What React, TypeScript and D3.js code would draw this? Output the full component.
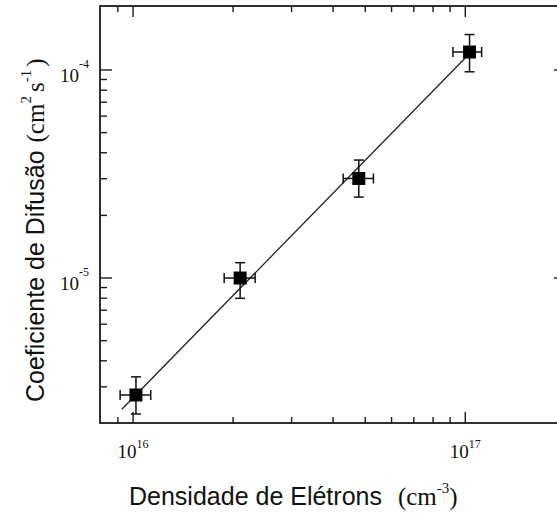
import React from 'react';
import * as d3 from 'd3';

// electron density (cm^-3) and diffusion coefficient (cm^2 s^-1)
const density = [1.02e16, 2.10e16, 4.78e16, 1.03e17];
const densityLow = [0.914e16, 1.88e16, 4.29e16, 9.18e16];
const densityHigh = [1.13e16, 2.33e16, 5.29e16, 1.12e17];
const diffusion = [2.74e-6, 1.0e-5, 3.01e-5, 1.22e-4];
const diffusionLow = [2.22e-6, 7.99e-6, 2.45e-5, 0.98e-4];
const diffusionHigh = [3.35e-6, 1.185e-5, 3.69e-5, 1.48e-4];

// fitted line end points
const fitDensity = [9.25e15, 1.02e17];
const fitDiffusion = [2.34e-6, 1.18e-4];

const xTickLabels = [{ v: 1e16, exp: '16' }, { v: 1e17, exp: '17' }];
const yTickLabels = [{ v: 1e-4, exp: '-4' }, { v: 1e-5, exp: '-5' }];

const W = 557, H = 517;
const left = 100, right = 566, top = 6, bottom = 423;
const sans = "'Liberation Sans', Arial, sans-serif";
const serif = "'Liberation Serif', 'Times New Roman', serif";

export default function App() {
  // 1e16 -> 133px, 1e17 -> 465px
  const x = d3.scaleLog().domain([7.95e15, 2.01e17]).range([left, right]);
  const y = d3.scaleLog().domain([2.01e-6, 2.03e-4]).range([bottom, top]);

  const isMajor = (v: number) => Math.abs(Math.log10(v) - Math.round(Math.log10(v))) < 1e-6;
  const xTicks = x.ticks().filter((v) => x(v) > left + 3 && x(v) < right - 3);
  const yTicks = y.ticks().filter((v) => y(v) > top + 3 && y(v) < bottom - 3);

  const line = d3.line<number>()
    .x((d) => x(fitDensity[d]))
    .y((d) => y(fitDiffusion[d]));

  const ax = '#1a1a1a';
  const cap = 5;
  const sq = 13;

  return (
    <div style={{ position: 'absolute', left: 0, top: 0 }}>
      <svg width={W} height={H} style={{ display: 'block', background: '#fff' }}>
        {/* ticks, all pointing inward */}
        <g stroke={ax} strokeWidth={1.4}>
          {xTicks.map((v, i) => {
            const len = isMajor(v) ? 11 : 6;
            return (
              <g key={'xt' + i}>
                <line x1={x(v)} x2={x(v)} y1={bottom} y2={bottom - len} />
                <line x1={x(v)} x2={x(v)} y1={top} y2={top + len} />
              </g>
            );
          })}
          {yTicks.map((v, i) => {
            const len = isMajor(v) ? 12 : 7;
            return (
              <g key={'yt' + i}>
                <line x1={left} x2={left + len} y1={y(v)} y2={y(v)} />
                <line x1={right} x2={right - len} y1={y(v)} y2={y(v)} />
              </g>
            );
          })}
        </g>
        <rect x={left} y={top} width={right - left} height={bottom - top}
          fill="none" stroke={ax} strokeWidth={1.8} />

        {/* tick labels */}
        {xTickLabels.map((t) => (
          <text key={t.exp} x={x(t.v)} y={458} textAnchor="middle"
            fontFamily={serif} fontSize={19} fill="#111">
            10<tspan fontSize={12} dy={-10}>{t.exp}</tspan>
          </text>
        ))}
        {yTickLabels.map((t) => (
          <text key={t.exp} x={89} y={y(t.v) + 12} textAnchor="end"
            fontFamily={serif} fontSize={19} fill="#111">
            10<tspan fontSize={12} dy={-14}>{t.exp}</tspan>
          </text>
        ))}

        {/* fit line */}
        <path d={line([0, 1]) ?? ''} fill="none" stroke="#222" strokeWidth={1.3} />

        {/* error bars and markers */}
        <g stroke="#111" strokeWidth={1.5}>
          {density.map((d, i) => {
            const cx = x(d), cy = y(diffusion[i]);
            const x0 = x(densityLow[i]), x1 = x(densityHigh[i]);
            const y0 = y(diffusionLow[i]), y1 = y(diffusionHigh[i]);
            return (
              <g key={'p' + i}>
                <line x1={cx} x2={cx} y1={y0} y2={y1} />
                <line x1={cx - cap} x2={cx + cap} y1={y0} y2={y0} />
                <line x1={cx - cap} x2={cx + cap} y1={y1} y2={y1} />
                <line x1={x0} x2={x1} y1={cy} y2={cy} />
                <line x1={x0} x2={x0} y1={cy - cap} y2={cy + cap} />
                <line x1={x1} x2={x1} y1={cy - cap} y2={cy + cap} />
                <rect x={cx - sq / 2} y={cy - sq / 2} width={sq} height={sq} fill="#000" stroke="none" />
              </g>
            );
          })}
        </g>

        {/* axis titles */}
        <text x={129} y={505} fontFamily={sans} fontSize={25} fill="#111">
          Densidade de Elétrons
          <tspan fontFamily={serif} dx={16}>(cm</tspan>
          <tspan fontFamily={serif} fontSize={15} dy={-12}>-3</tspan>
          <tspan fontFamily={serif} dy={12}>)</tspan>
        </text>
        <text transform="translate(44,402) rotate(-90)" fontFamily={sans} fontSize={25} fill="#111">
          Coeficiente de Difusão
          <tspan fontFamily={serif} dx={8}>(cm</tspan>
          <tspan fontFamily={serif} fontSize={15} dy={-13}>2</tspan>
          <tspan fontFamily={serif} dy={13} dx={4}>s</tspan>
          <tspan fontFamily={serif} fontSize={15} dy={-13}>-1</tspan>
          <tspan fontFamily={serif} dy={13} dx={3}>)</tspan>
        </text>
      </svg>
    </div>
  );
}
